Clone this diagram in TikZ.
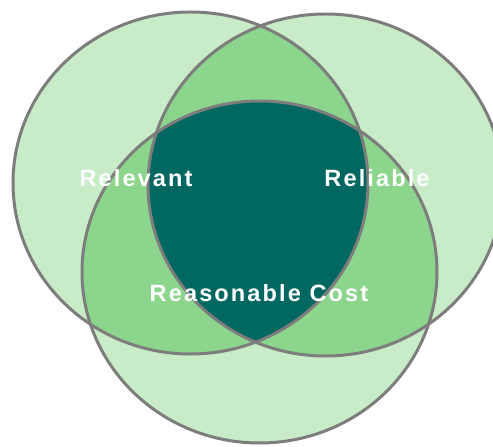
\documentclass[tikz,border=0pt]{standalone}
\usepackage{fontspec}
\setmainfont{Liberation Sans}
\usepackage{tikz}

\definecolor{paleGreen}{RGB}{200,236,200}
\definecolor{midGreen}{RGB}{140,213,140}
\definecolor{deepTeal}{RGB}{0,104,96}
\definecolor{rimGray}{RGB}{125,125,125}

\begin{document}
\begin{tikzpicture}[x=0.02cm, y=0.02cm]

\tikzstyle{rim} = [draw=rimGray, line width=1.7pt]
\tikzstyle{venntext} = [text=white, font=\fontsize{13.4}{15}\selectfont\bfseries\addfontfeature{LetterSpace=9}, anchor=base, inner sep=0pt]

\useasboundingbox (0,0) rectangle (493,446);

% one set
\fill[paleGreen] (190.5,263) ellipse (177.5 and 171);
\fill[paleGreen] (325.5,261) ellipse (177.5 and 171);
\fill[paleGreen] (259.5,174) ellipse (177.5 and 171);

% two sets
\begin{scope}
\clip (190.5,263) ellipse (177.5 and 171);
\fill[midGreen] (325.5,261) ellipse (177.5 and 171);
\fill[midGreen] (259.5,174) ellipse (177.5 and 171);
\end{scope}
\begin{scope}
\clip (325.5,261) ellipse (177.5 and 171);
\fill[midGreen] (259.5,174) ellipse (177.5 and 171);
\end{scope}

% all three
\begin{scope}
\clip (190.5,263) ellipse (177.5 and 171);
\clip (325.5,261) ellipse (177.5 and 171);
\fill[deepTeal] (259.5,174) ellipse (177.5 and 171);
\end{scope}

% outlines
\draw[rim] (190.5,263) ellipse (177.5 and 171);
\draw[rim] (325.5,261) ellipse (177.5 and 171);
\draw[rim] (259.5,174) ellipse (177.5 and 171);

\node (relevant) [venntext] at (136,259) {Relevant};
\node (reliable) [venntext] at (377,259) {Reliable};
\node (cost) [venntext] at (259,144) {Reasonable Cost};

\end{tikzpicture}
\end{document}
